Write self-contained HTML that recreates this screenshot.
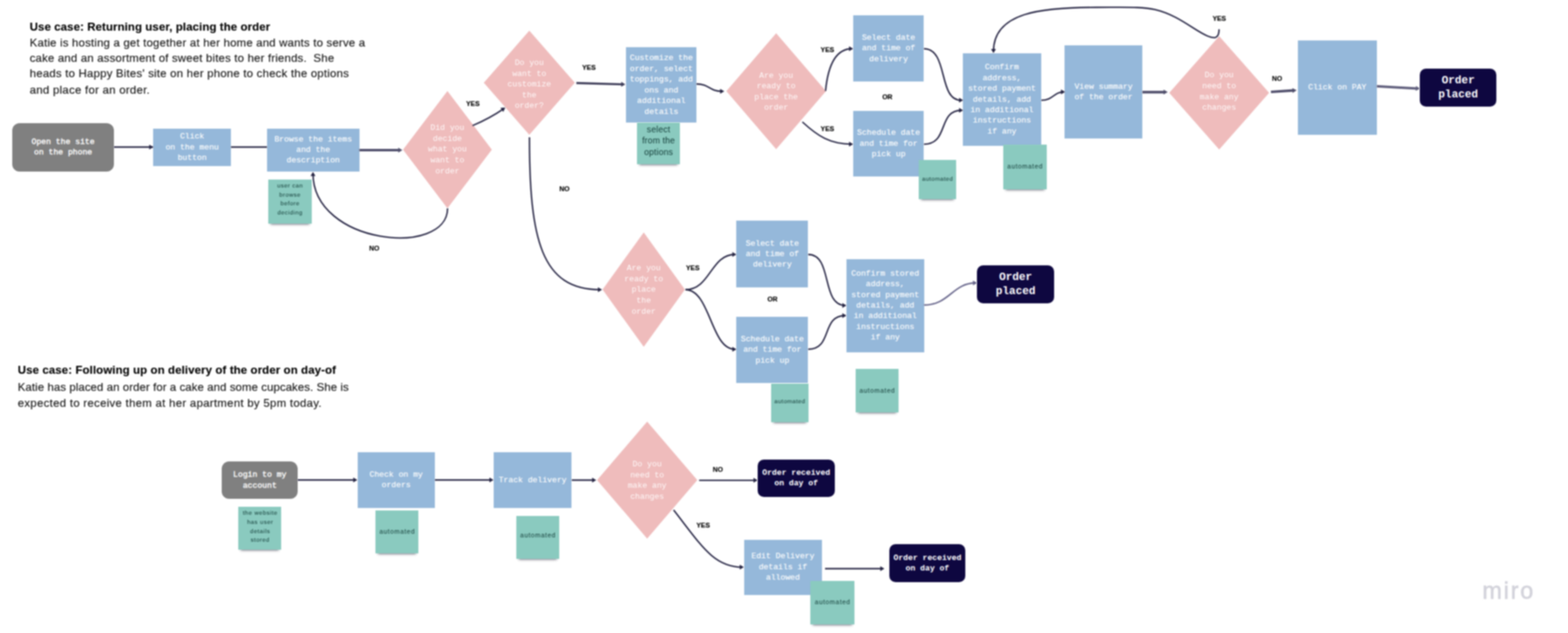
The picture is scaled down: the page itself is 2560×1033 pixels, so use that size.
<!DOCTYPE html>
<html lang="en"><head><meta charset="utf-8"><title>Happy Bites user flows</title>
<style>
html,body{margin:0;padding:0;background:#fff}
body{width:2560px;height:1033px;position:relative;overflow:hidden;font-family:"Liberation Sans",sans-serif}
#board{position:absolute;left:0;top:0;width:2560px;height:1033px;overflow:hidden;background:#fff}
.lay{position:absolute;left:0;top:0;width:2560px;height:1033px;filter:blur(0.8px)}
.b{position:absolute;display:flex;align-items:center;justify-content:center;text-align:center;color:#fff;
 font-family:"Liberation Mono",monospace;font-size:13.2px;line-height:17.4px;white-space:nowrap;-webkit-text-stroke:0.15px #fff}
.blue{background:#95b8da}
.gray{background:#808080;border-radius:12px;-webkit-text-stroke:0.45px #fff}
.navy{background:#0e0740;border-radius:10px;font-weight:bold;-webkit-text-stroke:0}
.big{font-size:18px;line-height:23px}
.d{position:absolute;display:flex;align-items:center;justify-content:center;text-align:center;color:rgba(255,255,255,.9);
 font-family:"Liberation Mono",monospace;font-size:13.2px;line-height:17.6px;white-space:nowrap}
.s{position:absolute;display:flex;align-items:flex-start;justify-content:center;text-align:center;color:#1f4a45;-webkit-text-stroke:0.1px #1f4a45;background:#8acabf;
 font-family:"Liberation Sans",sans-serif;white-space:nowrap;box-shadow:0 5px 4px -4px rgba(40,40,60,.7)}
.l{position:absolute;font-family:"Liberation Sans",sans-serif;font-weight:bold;font-size:11px;line-height:12px;color:#000;-webkit-text-stroke:0.2px #000;
 transform:translate(-50%,-50%);white-space:nowrap}
.t{position:absolute;white-space:nowrap;color:#1a1a1a;font-size:18.6px;line-height:26px;-webkit-text-stroke:0.2px #1a1a1a}
.t b{color:#000}
svg{position:absolute;left:0;top:0}
.lay3{position:absolute;left:0;top:0;width:2560px;height:1033px;filter:blur(0.8px)}
.lay2{position:absolute;left:0;top:0;width:2560px;height:1033px;filter:blur(0.8px)}
#miro{position:absolute;color:#d3d3db;font-size:38.2px;line-height:40px;letter-spacing:2.9px;white-space:nowrap;-webkit-text-stroke:0.9px #d3d3db}

</style></head><body><div id="board">
<div class="lay">
<svg width="2560" height="1033" viewBox="0 0 2560 1033">
<polygon points="730.5,148.4 803.0,244.2 730.5,340.0 658.0,244.2" fill="#efbcbc"/>
<polygon points="864.2,50.0 938.5,135.0 864.2,220.0 789.9,135.0" fill="#efbcbc"/>
<polygon points="1267.2,54.2 1348.5,148.8 1267.2,243.4 1185.9,148.8" fill="#efbcbc"/>
<polygon points="1990.5,59.0 2072.0,151.5 1990.5,244.0 1909.0,151.5" fill="#efbcbc"/>
<polygon points="1051.0,379.2 1118.2,472.6 1051.0,566.0 983.8,472.6" fill="#efbcbc"/>
<polygon points="1056.6,688.0 1138.4,783.5 1056.6,879.0 974.8,783.5" fill="#efbcbc"/>
</svg>
<div class="b gray" style="left:20.0px;top:200.6px;width:166.0px;height:79.4px"><span>Open the site<br>on the phone</span></div>
<div class="b blue" style="left:250.4px;top:209.5px;width:126.6px;height:61.5px"><span>Click<br>on the menu<br>button</span></div>
<div class="b blue" style="left:436.0px;top:209.5px;width:150.5px;height:70.5px"><span>Browse the items<br>and the<br>description</span></div>
<div class="b blue" style="left:1022.4px;top:77.4px;width:114.6px;height:122.6px"><span>Customize the<br>order, select<br>toppings, add<br>ons and<br>additional<br>details</span></div>
<div class="b blue" style="left:1393.0px;top:25.0px;width:115.4px;height:108.4px"><span>Select date<br>and time of<br>delivery</span></div>
<div class="b blue" style="left:1393.0px;top:180.7px;width:115.4px;height:107.8px"><span>Schedule date<br>and time for<br>pick up</span></div>
<div class="b blue" style="left:1571.8px;top:86.8px;width:128.0px;height:151.1px"><span>Confirm<br>address,<br>stored payment<br>details, add<br>in additional<br>instructions<br>if any</span></div>
<div class="b blue" style="left:1738.4px;top:73.7px;width:126.6px;height:152.8px"><span>View summary<br>of the order</span></div>
<div class="b blue" style="left:2118.8px;top:66.0px;width:128.9px;height:153.5px"><span>Click on PAY</span></div>
<div class="b navy big" style="left:2318.4px;top:112.0px;width:124.6px;height:62.2px"><span>Order<br>placed</span></div>
<div class="b blue" style="left:1202.4px;top:360.3px;width:117.1px;height:108.7px"><span>Select date<br>and time of<br>delivery</span></div>
<div class="b blue" style="left:1202.4px;top:516.8px;width:117.1px;height:108.2px"><span>Schedule date<br>and time for<br>pick up</span></div>
<div class="b blue" style="left:1382.0px;top:422.8px;width:126.5px;height:151.8px"><span>Confirm stored<br>address,<br>stored payment<br>details, add<br>in additional<br>instructions<br>if any</span></div>
<div class="b navy big" style="left:1595.3px;top:432.9px;width:125.7px;height:62.4px"><span>Order<br>placed</span></div>
<div class="b gray" style="left:362.3px;top:752.7px;width:123.7px;height:61.7px"><span>Login to my<br>account</span></div>
<div class="b blue" style="left:583.5px;top:738.0px;width:126.5px;height:90.7px"><span>Check on my<br>orders</span></div>
<div class="b blue" style="left:805.8px;top:738.0px;width:127.6px;height:90.7px"><span>Track delivery</span></div>
<div class="b navy" style="left:1237.0px;top:749.8px;width:125.8px;height:61.2px"><span>Order received<br>on day of</span></div>
<div class="b blue" style="left:1214.5px;top:880.5px;width:127.5px;height:90.0px"><span>Edit Delivery<br>details if<br>allowed</span></div>
<div class="b navy" style="left:1451.9px;top:888.0px;width:124.6px;height:62.0px"><span>Order received<br>on day of</span></div>
<div class="d" style="left:658.0px;top:148.4px;width:145.0px;height:191.6px"><span>Did you<br>decide<br>what you<br>want to<br>order</span></div>
<div class="d" style="left:789.9px;top:53.0px;width:148.6px;height:170.0px"><span>Do you<br>want to<br>customize<br>the<br>order?</span></div>
<div class="d" style="left:1185.9px;top:55.2px;width:162.6px;height:189.2px"><span>Are you<br>ready to<br>place the<br>order</span></div>
<div class="d" style="left:1909.0px;top:57.1px;width:163.0px;height:185.0px"><span>Do you<br>need to<br>make any<br>changes</span></div>
<div class="d" style="left:983.8px;top:379.8px;width:134.4px;height:186.8px"><span>Are you<br>ready to<br>place<br>the<br>order</span></div>
<div class="d" style="left:974.8px;top:688.6px;width:163.6px;height:191.0px"><span>Do you<br>need to<br>make any<br>changes</span></div>
</div><div class="lay3">
<svg id="conn" width="2560" height="1033" viewBox="0 0 2560 1033" fill="none" stroke-linecap="butt">
<path d="M186 240 L250 240" stroke="#262544" stroke-width="2.35"/>
<polygon points="250.4,240.0 243.6,244.0 243.6,236.0" fill="#262544"/>
<path d="M377 240 L436 240" stroke="#262544" stroke-width="2.35"/>
<path d="M586.5 245 L653 245" stroke="#4f4e6b" stroke-width="4.2"/>
<polygon points="657.0,245.0 650.2,249.0 650.2,241.0" fill="#4f4e6b"/>
<path d="M771.5 205 Q800 193 823 177" stroke="#262544" stroke-width="2.35"/>
<polygon points="825.0,175.5 821.7,182.7 817.1,176.1" fill="#262544"/>
<path d="M730.7 340 C730.7 420 511 400 511 283" stroke="#262544" stroke-width="2.35"/>
<polygon points="511.0,280.5 515.0,287.3 507.0,287.3" fill="#262544"/>
<path d="M941 135.5 L1016 137.6" stroke="#3d3c58" stroke-width="3.4"/>
<polygon points="1021.0,137.8 1014.1,141.6 1014.3,133.6" fill="#3d3c58"/>
<path d="M1137 137 C1158 137 1158 149 1178 149" stroke="#262544" stroke-width="2.35"/>
<polygon points="1182.5,149.0 1175.7,153.0 1175.7,145.0" fill="#262544"/>
<path d="M864.4 224 C864.4 392 884 472.7 980 472.7" stroke="#262544" stroke-width="2.35"/>
<polygon points="983.0,472.7 976.2,476.7 976.2,468.7" fill="#262544"/>
<path d="M1347.8 148.5 C1352 105 1365 79.5 1391 79.5" stroke="#262544" stroke-width="2.35"/>
<polygon points="1393.0,79.5 1386.2,83.5 1386.2,75.5" fill="#262544"/>
<path d="M1310 199 C1335 222 1355 235.3 1391 235.3" stroke="#262544" stroke-width="2.35"/>
<polygon points="1393.0,235.3 1386.2,239.3 1386.2,231.3" fill="#262544"/>
<path d="M1508.4 79.5 C1549 79.5 1531 163.6 1569 163.6" stroke="#262544" stroke-width="2.35"/>
<polygon points="1572.6,163.6 1565.8,167.6 1565.8,159.6" fill="#262544"/>
<path d="M1508.4 235.3 C1550 235.3 1530 180 1570 180" stroke="#262544" stroke-width="2.35"/>
<polygon points="1572.6,180.0 1565.8,184.0 1565.8,176.0" fill="#262544"/>
<path d="M1700 163.6 C1720 163.6 1720 150 1737 150" stroke="#262544" stroke-width="2.35"/>
<polygon points="1739.0,150.0 1732.2,154.0 1732.2,146.0" fill="#262544"/>
<path d="M1865 150.3 L1901 150.3" stroke="#4f4e6b" stroke-width="4.2"/>
<polygon points="1906.5,150.3 1899.7,154.3 1899.7,146.3" fill="#4f4e6b"/>
<path d="M1990.3 47.8 C1990.3 64 1982 63 1972 59 C1950 50.2 1925 25 1885.8 15.7 C1865 10.8 1840 12 1790 12 C1700 12 1622 20 1622 84" stroke="#262544" stroke-width="2.35"/>
<polygon points="1622.0,86.8 1618.0,80.0 1626.0,80.0" fill="#262544"/>
<path d="M2075 150 L2111 147.6" stroke="#4f4e6b" stroke-width="4.2"/>
<polygon points="2117.0,147.2 2110.5,151.7 2109.9,143.7" fill="#4f4e6b"/>
<path d="M2247.7 140.8 L2314 144.4" stroke="#5f5e7c" stroke-width="4"/>
<polygon points="2318.4,144.6 2311.4,148.2 2311.8,140.2" fill="#5f5e7c"/>
<path d="M1119 472.7 C1160 472.7 1160 415.2 1200 415.2" stroke="#262544" stroke-width="2.35"/>
<polygon points="1202.4,415.2 1195.6,419.2 1195.6,411.2" fill="#262544"/>
<path d="M1119 472.7 C1160 472.7 1160 570 1200 570" stroke="#262544" stroke-width="2.35"/>
<polygon points="1202.4,570.0 1195.6,574.0 1195.6,566.0" fill="#262544"/>
<path d="M1319.5 415.2 C1360 415.2 1340 498.4 1380 498.4" stroke="#262544" stroke-width="2.35"/>
<polygon points="1382.0,498.4 1375.2,502.4 1375.2,494.4" fill="#262544"/>
<path d="M1319.5 570 C1360 570 1340 515 1380 515" stroke="#262544" stroke-width="2.35"/>
<polygon points="1382.0,515.0 1375.2,519.0 1375.2,511.0" fill="#262544"/>
<path d="M1508.5 497.8 C1550 497.8 1555 461.8 1593 461.8" stroke="#66648a" stroke-width="2.4"/>
<polygon points="1595.3,461.8 1588.5,465.8 1588.5,457.8" fill="#66648a"/>
<path d="M486 783.2 L581 783.2" stroke="#262544" stroke-width="2.35"/>
<polygon points="583.5,783.2 576.7,787.2 576.7,779.2" fill="#262544"/>
<path d="M710 783.2 L803 783.2" stroke="#262544" stroke-width="2.35"/>
<polygon points="805.8,783.2 799.0,787.2 799.0,779.2" fill="#262544"/>
<path d="M933.4 783.5 L971 783.5" stroke="#262544" stroke-width="2.35"/>
<polygon points="973.5,783.5 966.7,787.5 966.7,779.5" fill="#262544"/>
<path d="M1141.5 783.8 L1234 783.8" stroke="#262544" stroke-width="2.35"/>
<polygon points="1237.0,783.8 1230.2,787.8 1230.2,779.8" fill="#262544"/>
<path d="M1099.8 832.3 C1145 890 1165 925.5 1212 925.5" stroke="#262544" stroke-width="2.35"/>
<polygon points="1214.5,925.5 1207.7,929.5 1207.7,921.5" fill="#262544"/>
<path d="M1347 928 L1441 928" stroke="#262544" stroke-width="2.35"/>
<polygon points="1444.0,928.0 1437.2,932.0 1437.2,924.0" fill="#262544"/>
</svg>
</div><div class="lay">
<div class="s" style="left:438.0px;top:292.5px;width:70.5px;height:72.0px;font-size:9.5px;line-height:14.6px"><span style="margin-top:3.5px;letter-spacing:0.73px;margin-right:-0.73px">user can<br>browse<br>before<br>deciding</span></div>
<div class="s" style="left:1039.8px;top:200.0px;width:70.7px;height:68.0px;font-size:14px;line-height:18.8px"><span style="margin-top:1.6px;letter-spacing:0.3px;margin-right:-0.3px">select<br>from the<br>options</span></div>
<div class="s" style="left:1500.0px;top:260.8px;width:61.0px;height:64.2px;font-size:9.5px;line-height:12px"><span style="margin-top:25.0px;letter-spacing:0.64px;margin-right:-0.64px">automated</span></div>
<div class="s" style="left:1637.9px;top:236.4px;width:70.7px;height:72.2px;font-size:10.5px;line-height:14px"><span style="margin-top:27.5px;letter-spacing:0.96px;margin-right:-0.96px">automated</span></div>
<div class="s" style="left:1258.6px;top:625.8px;width:61.4px;height:63.2px;font-size:9.5px;line-height:12px"><span style="margin-top:23.2px;letter-spacing:0.64px;margin-right:-0.64px">automated</span></div>
<div class="s" style="left:1396.5px;top:602.0px;width:70.8px;height:71.0px;font-size:10.5px;line-height:14px"><span style="margin-top:28.0px;letter-spacing:0.96px;margin-right:-0.96px">automated</span></div>
<div class="s" style="left:389.4px;top:826.7px;width:70.1px;height:70.3px;font-size:9.5px;line-height:14.6px"><span style="margin-top:3.7px;letter-spacing:0.8px;margin-right:-0.8px">the website<br>has user<br>details<br>stored</span></div>
<div class="s" style="left:613.2px;top:832.5px;width:69.8px;height:70.2px;font-size:10.5px;line-height:14px"><span style="margin-top:27.8px;letter-spacing:0.96px;margin-right:-0.96px">automated</span></div>
<div class="s" style="left:842.8px;top:841.6px;width:70.4px;height:70.2px;font-size:10.5px;line-height:14px"><span style="margin-top:24.4px;letter-spacing:0.96px;margin-right:-0.96px">automated</span></div>
<div class="s" style="left:1323.0px;top:947.5px;width:72.0px;height:71.2px;font-size:10.5px;line-height:14px"><span style="margin-top:27.5px;letter-spacing:0.96px;margin-right:-0.96px">automated</span></div>
</div><div class="lay2">
<div class="l" style="left:772.0px;top:169.0px">YES</div>
<div class="l" style="left:961.5px;top:110.0px">YES</div>
<div class="l" style="left:611.0px;top:405.2px">NO</div>
<div class="l" style="left:921.5px;top:308.2px">NO</div>
<div class="l" style="left:1350.8px;top:80.5px">YES</div>
<div class="l" style="left:1350.8px;top:210.0px">YES</div>
<div class="l" style="left:1448.7px;top:157.8px">OR</div>
<div class="l" style="left:1990.7px;top:30.2px">YES</div>
<div class="l" style="left:2085.0px;top:128.4px">NO</div>
<div class="l" style="left:1131.0px;top:437.4px">YES</div>
<div class="l" style="left:1261.2px;top:487.8px">OR</div>
<div class="l" style="left:1172.0px;top:765.6px">NO</div>
<div class="l" style="left:1148.0px;top:857.0px">YES</div>
</div><div class="lay">
<div class="t" id="t0" style="left:48.5px;top:31.0px;letter-spacing:0.193px"><b>Use case: Returning user, placing the order</b></div>
<div class="t" id="t1" style="left:48.5px;top:57.2px;letter-spacing:0.323px">Katie is hosting a get together at her home and wants to serve a</div>
<div class="t" id="t2" style="left:48.5px;top:81.5px;letter-spacing:0.306px">cake and an assortment of sweet bites to her friends.&nbsp; She</div>
<div class="t" id="t3" style="left:48.5px;top:107.3px;letter-spacing:0.361px">heads to Happy Bites&#x27; site on her phone to check the options</div>
<div class="t" id="t4" style="left:48.5px;top:133.5px;letter-spacing:0.451px">and place for an order.</div>
<div class="t" id="t5" style="left:29.0px;top:591.0px;letter-spacing:0.218px"><b>Use case: Following up on delivery of the order on day-of</b></div>
<div class="t" id="t6" style="left:29.0px;top:618.5px;letter-spacing:0.148px">Katie has placed an order for a cake and some cupcakes. She is</div>
<div class="t" id="t7" style="left:29.0px;top:645.0px;letter-spacing:0.483px">expected to receive them at her apartment by 5pm today.</div>
<div id="miro" style="left:2420.3px;top:943.6px">miro</div>
</div>
</div></body></html>
